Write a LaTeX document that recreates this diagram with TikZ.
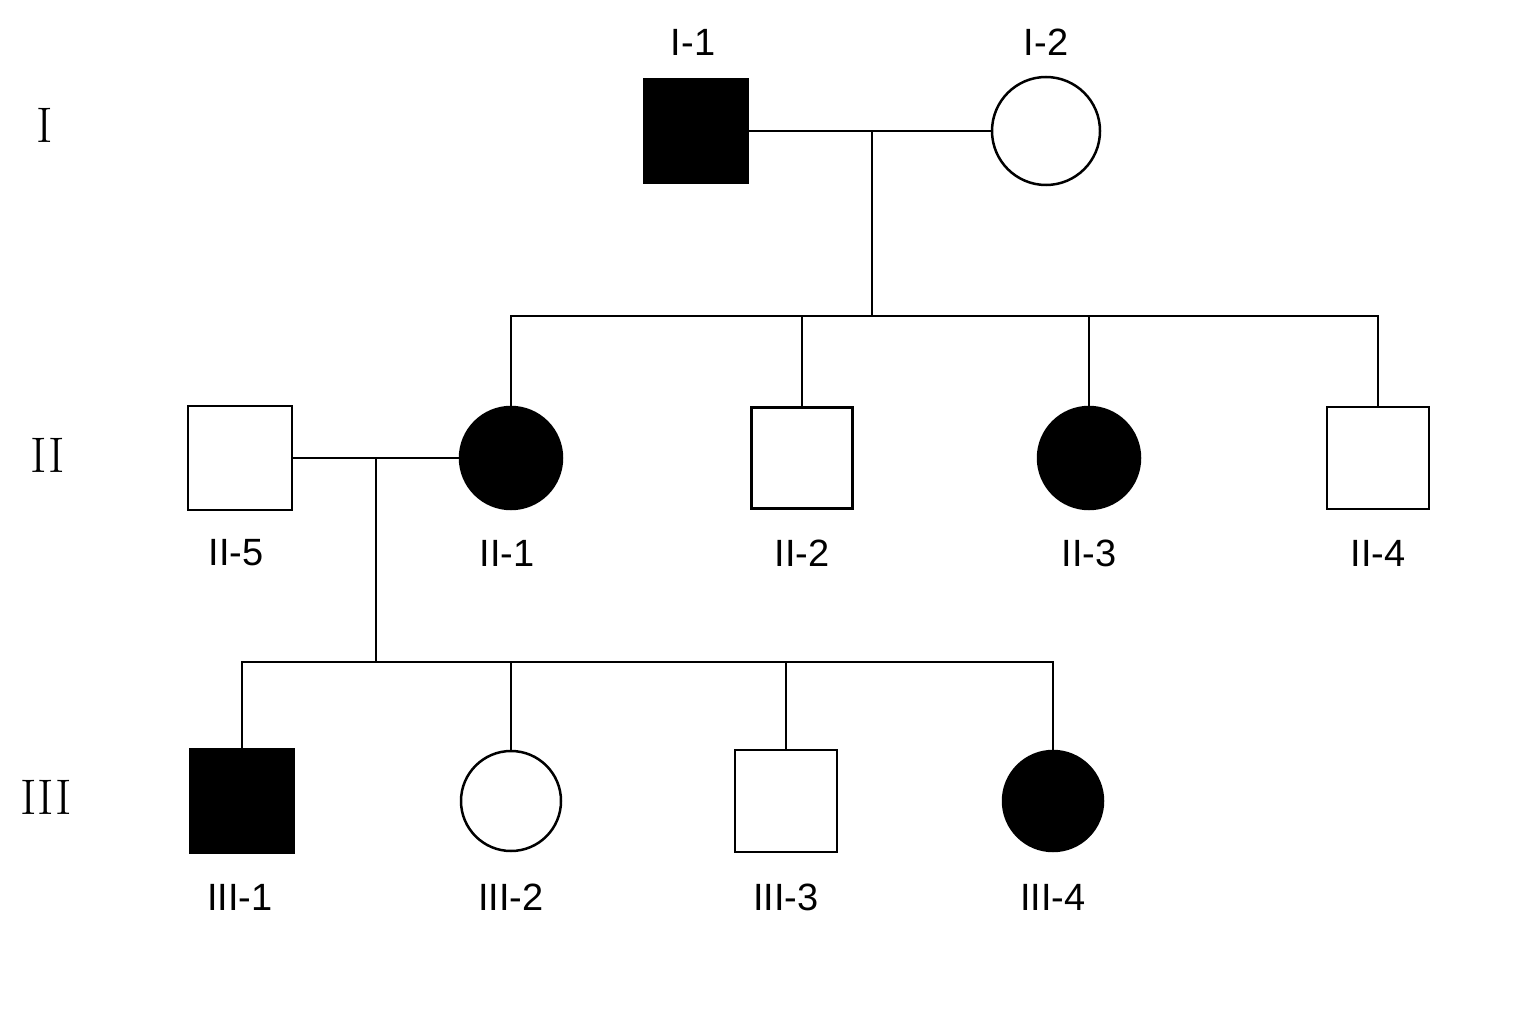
\documentclass[tikz,border=0pt]{standalone}
\usepackage{fontspec}
\newfontfamily\labfont{Liberation Sans}
\usetikzlibrary{calc}

\begin{document}
\begin{tikzpicture}[x=1pt,y=-1pt,line width=2.5pt,
  male/.style={draw,rectangle,minimum size=104pt,inner sep=0},
  female/.style={draw,circle,minimum size=102pt,inner sep=0},
  aff/.style={fill=black},
  lab/.style={font=\labfont\fontsize{38}{38}\selectfont},
  gen/.style={font=\fontsize{50}{50}\selectfont}]
\useasboundingbox (0,0) rectangle (1536,1024);
% generation I
\node[male,aff] (I1) at (696,131) {};
\node[female,minimum size=108pt] (I2) at (1046,131) {};
\node[lab] at (693,42) {I-1};
\node[lab] at (1046,42) {I-2};
% generation II
\node[male] (II5) at (240,458) {};
\node[female,aff] (II1) at (511,458) {};
\node[male,minimum size=101pt] (II2) at (802,458) {};
\node[female,aff] (II3) at (1089,458) {};
\node[male,minimum size=102pt] (II4) at (1378,458) {};
\foreach \n/\x in {II-5/236,II-1/507,II-2/802,II-3/1089,II-4/1378}
  \node[lab] at (\x,553) {\n};
% generation III
\node[male,aff] (III1) at (242,801) {};
\node[female,minimum size=100pt] (III2) at (511,801) {};
\node[male,minimum size=102pt] (III3) at (786,801) {};
\node[female,aff,minimum size=100pt] (III4) at (1053,801) {};
\foreach \n/\x in {III-1/240,III-2/511,III-3/786,III-4/1053}
  \node[lab] at (\x,897) {\n};
% generation labels
\node[gen] at (45,125) {I};
\node[gen] at (48,455) {II};
\node[gen] at (46,797) {III};
% lines of descent
\coordinate (m1) at (872,131);
\coordinate (s1) at (872,316);
\draw (I1.east) -- (I2.west);
\draw (m1) -- (s1);
\draw (II1.north) |- (s1) -| (II4.north);
\draw (II2.north) -- (II2.north |- s1);
\draw (II3.north) -- (II3.north |- s1);
\coordinate (m2) at (376,458);
\coordinate (s2) at (376,662);
\draw (II5.east) -- (II1.west);
\draw (m2) -- (s2);
\draw (III1.north) |- (s2) -| (III4.north);
\draw (III2.north) -- (III2.north |- s2);
\draw (III3.north) -- (III3.north |- s2);
\end{tikzpicture}
\end{document}
